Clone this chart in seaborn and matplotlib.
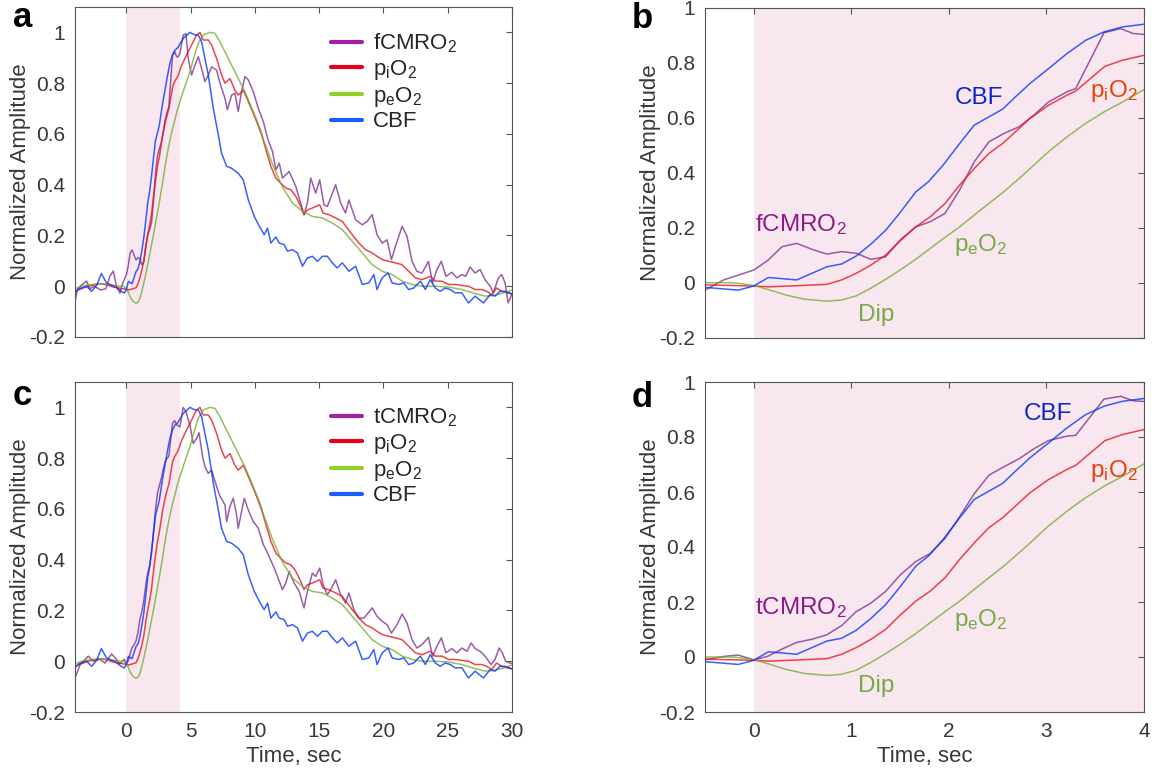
import numpy as np
import pandas as pd
import seaborn as sns
from matplotlib import pyplot as plt
from matplotlib.lines import Line2D
from matplotlib.ticker import FuncFormatter

# CBF, same trace in all panels
cbf_t = [-4.0, -3.7, -3.4, -3.1, -2.7, -2.3, -1.95, -1.55, -1.2, -0.9, -0.5,
         -0.16, 0.0, 0.15, 0.44, 0.75, 0.9, 1.05, 1.2, 1.35, 1.5, 1.66, 1.79, 1.94,
         2.11, 2.26, 2.41, 2.55, 2.68, 2.83, 3.02, 3.21, 3.4, 3.59, 3.78, 4.0,
         4.42, 4.94, 5.33, 5.59, 5.85, 6.11, 6.37, 6.76, 7.15, 7.4, 7.8, 8.18, 8.7,
         9.09, 9.48, 9.95, 10.34, 10.72, 10.98, 11.24, 11.63, 11.89, 12.27, 12.53,
         12.92, 13.31, 13.7, 14.08, 14.47, 14.86, 15.25, 15.63, 16.02, 16.4, 16.8,
         17.31, 17.83, 18.35, 18.86, 19.25, 19.5, 19.9, 20.36, 20.67, 21.19, 21.58,
         21.96, 22.35, 22.87, 23.26, 23.64, 24.03, 24.42, 24.8, 25.19, 25.58, 26.1,
         26.61, 27.13, 27.78, 28.3, 28.68, 29.07, 29.46, 30.0]
cbf = [-0.025, -0.01, -0.005, 0.0, -0.02, 0.005, 0.05, 0.013, 0.005, 0.0, -0.017,
       -0.027, -0.012, 0.019, 0.01, 0.058, 0.068, 0.097, 0.14, 0.19, 0.255, 0.33, 0.367, 0.427,
       0.506, 0.573, 0.603, 0.631, 0.675, 0.724, 0.778, 0.833, 0.881, 0.912, 0.93, 0.94,
       0.976, 1.0, 0.99, 0.99, 0.963, 0.897, 0.832, 0.701, 0.596, 0.524, 0.472, 0.465, 0.445,
       0.419, 0.341, 0.275, 0.236, 0.203, 0.229, 0.17, 0.194, 0.17, 0.164, 0.138,
       0.144, 0.131, 0.079, 0.111, 0.118, 0.098, 0.118, 0.118, 0.092, 0.072, 0.092,
       0.059, 0.079, 0.007, 0.013, 0.046, -0.013, 0.033, 0.052, 0.013, 0.007, 0.013,
       -0.013, -0.007, 0.02, -0.013, 0.026, -0.007, -0.02, -0.007, -0.013, -0.026, -0.026,
       -0.066, -0.039, -0.066, -0.033, -0.039, -0.02, -0.02, -0.03]

# piO2
pio2_t = [-4.0, -3.5, -3.0, -2.5, -2.0, -1.5, -1.0, -0.5,
          0.0, 0.15, 0.44, 0.75, 0.9, 1.05, 1.2, 1.35, 1.5, 1.66, 1.81, 1.96, 2.11,
          2.26, 2.41, 2.55, 2.68, 2.83, 3.02, 3.21, 3.3, 3.6, 3.78, 4.0,
          4.3, 4.68, 5.07, 5.46, 5.72, 5.98, 6.37, 6.63, 7.02, 7.4, 7.67, 8.06, 8.44,
          8.7, 9.1, 9.6, 10.13, 10.52, 10.9, 11.24, 11.63, 12.0, 12.4, 12.8, 13.18,
          13.57, 13.82, 14.08, 14.47, 14.73, 15.04, 15.3, 15.76, 16.28, 16.8, 17.18,
          17.57, 18.09, 18.6, 19.12, 19.5, 19.9, 20.4, 20.93, 21.45, 21.96, 22.48,
          23.0, 23.64, 24.03, 24.55, 25.06, 25.58, 26.1, 26.61, 27.13, 27.65, 28.04,
          28.42, 28.8, 29.2, 29.6, 30.0]
pio2 = [-0.02, -0.01, 0.0, 0.005, 0.01, 0.005, -0.004, -0.008,
        -0.012, -0.015, -0.011, -0.006, 0.01, 0.034, 0.064, 0.1, 0.152, 0.203, 0.24, 0.288, 0.355,
        0.415, 0.47, 0.506, 0.548, 0.597, 0.645, 0.682, 0.697, 0.787, 0.809, 0.827,
        0.87, 0.911, 0.95, 0.99, 1.0, 0.97, 0.97, 0.95, 0.897, 0.832, 0.8, 0.818, 0.772,
        0.753, 0.772, 0.714, 0.649, 0.596, 0.53, 0.472, 0.426, 0.406, 0.387, 0.38, 0.354,
        0.314, 0.282, 0.301, 0.308, 0.314, 0.321, 0.288, 0.282, 0.269, 0.255, 0.229,
        0.203, 0.17, 0.144, 0.131, 0.118, 0.105, 0.098, 0.092, 0.085, 0.059, 0.033,
        0.026, 0.039, 0.02, 0.02, 0.007, 0.007, 0.003, 0.0, -0.013, -0.013, -0.02,
        -0.033, -0.007, -0.02, -0.026, -0.03]

# peO2
peo2_t = [-4.0, -3.5, -3.0, -2.5, -2.0, -1.5, -1.0, -0.5,
          -0.2, 0.0, 0.14, 0.33, 0.52, 0.75, 0.9, 1.05, 1.2, 1.35, 1.5, 1.66, 1.81,
          1.96, 2.11, 2.26, 2.41, 2.56, 2.72, 2.87, 3.02, 3.21, 3.4, 3.59, 3.78, 4.0,
          4.5, 4.94, 5.3, 5.59, 5.98, 6.5, 6.89, 7.28, 7.93, 8.57, 9.22, 9.87, 10.39,
          10.72, 11.37, 12.14, 12.92, 13.7, 14.47, 15.25, 16.02, 16.8, 17.57, 18.35,
          19.12, 19.9, 20.67, 21.45, 22.22, 23.0, 24.03, 25.06, 26.1, 27.13, 27.9,
          28.42, 29.2, 30.0]
peo2 = [-0.01, 0.0, 0.005, 0.008, 0.01, 0.008, 0.003, 0.0,
        0.0, -0.01, -0.024, -0.045, -0.06, -0.067, -0.063, -0.048, -0.02, 0.012, 0.046, 0.085, 0.125,
        0.165, 0.203, 0.246, 0.288, 0.33, 0.379, 0.427, 0.476, 0.53, 0.579, 0.621, 0.657, 0.702,
        0.78, 0.845, 0.91, 0.957, 0.99, 1.0, 0.996, 0.963, 0.897, 0.832, 0.766, 0.688, 0.623,
        0.57, 0.48, 0.39, 0.328, 0.295, 0.275, 0.269, 0.249, 0.223, 0.177, 0.131,
        0.085, 0.059, 0.046, 0.02, 0.007, 0.0, 0.0, -0.003, -0.013, -0.029, -0.039,
        -0.037, -0.029, -0.015]

# fCMRO2 (panels a, b)
fcmro2_t = [-4.0, -3.8, -3.45, -3.1, -2.85, -2.5, -2.0, -1.6, -1.28, -1.02, -0.77,
            -0.5, -0.31, 0.0, 0.14, 0.29, 0.44, 0.6, 0.75, 0.9, 1.05, 1.2, 1.35, 1.5,
            1.66, 1.81, 1.96, 2.11, 2.26, 2.41, 2.56, 2.72, 2.87, 3.02, 3.21, 3.3, 3.59,
            3.76, 3.89, 4.0,
            4.16, 4.42, 4.63, 4.81, 5.07, 5.33, 5.59, 5.85, 6.11, 6.37, 6.63, 7.02, 7.28,
            7.67, 7.85, 8.19, 8.44, 8.7, 8.96, 9.22, 9.48, 9.87, 10.26, 10.65, 11.0,
            11.37, 11.63, 11.89, 12.14, 12.66, 13.18, 13.82, 14.08, 14.34, 14.73, 15.04,
            15.37, 15.63, 16.28, 16.67, 17.05, 17.31, 17.83, 18.35, 18.73, 19.12, 19.5,
            19.9, 20.28, 20.62, 20.93, 21.45, 21.83, 22.22, 22.6, 23.0, 23.5, 23.82,
            24.16, 24.5, 24.86, 25.32, 25.71, 26.1, 26.4, 26.74, 27.13, 27.52, 27.9,
            28.3, 28.55, 28.94, 29.2, 29.46, 29.7, 30.0]
fcmro2 = [-0.06, -0.01, 0.007, 0.02, -0.01, 0.0, -0.015, -0.01, 0.04, 0.06, 0.0,
          -0.027, 0.01, 0.046, 0.08, 0.131, 0.143, 0.121, 0.104, 0.113, 0.107, 0.085, 0.094, 0.155,
          0.203, 0.222, 0.252, 0.337, 0.44, 0.512, 0.542, 0.567, 0.609, 0.657, 0.694, 0.706, 0.909,
          0.924, 0.906, 0.903,
          0.917, 0.99, 0.995, 0.897, 0.832, 0.871, 0.904, 0.858, 0.806, 0.832, 0.864, 0.851, 0.8,
          0.74, 0.695, 0.753, 0.76, 0.688, 0.767, 0.826, 0.813, 0.767, 0.701, 0.649, 0.58,
          0.53, 0.459, 0.485, 0.426, 0.452, 0.393, 0.282, 0.328, 0.426, 0.367, 0.419,
          0.321, 0.314, 0.4, 0.328, 0.288, 0.34, 0.262, 0.242, 0.255, 0.282, 0.203,
          0.17, 0.183, 0.105, 0.157, 0.236, 0.197, 0.098, 0.059, 0.052, 0.098, 0.013,
          0.066, 0.098, 0.039, 0.055, 0.033, 0.046, 0.039, 0.076, 0.052, 0.066, 0.026,
          0.0, -0.026, 0.033, 0.046, 0.013, -0.066, -0.03]

# tCMRO2 (panels c, d)
tcmro2_t = [-4.0, -3.6, -2.97, -2.58, -2.06, -1.67, -1.15, -0.77,
            -0.5, -0.31, -0.16, 0.0, 0.14, 0.29, 0.44, 0.6, 0.75, 0.9, 1.05, 1.2, 1.35,
            1.5, 1.66, 1.81, 1.96, 2.11, 2.26, 2.41, 2.56, 2.72, 2.87, 3.02, 3.21, 3.3,
            3.59, 3.76, 3.89, 4.0,
            4.16, 4.42, 4.63, 4.94, 5.2, 5.46, 5.65, 5.93, 6.11, 6.37, 6.63, 7.02, 7.28,
            7.67, 7.8, 8.05, 8.31, 8.57, 8.7, 8.96, 9.17, 9.48, 9.87, 10.26, 10.65, 11.1,
            11.5, 12.14, 12.4, 12.66, 13.05, 13.44, 13.82, 14.08, 14.47, 14.73, 15.04,
            15.3, 15.63, 15.9, 16.28, 16.67, 17.05, 17.31, 17.7, 18.09, 18.48, 19.12,
            19.5, 19.9, 20.28, 20.62, 21.06, 21.45, 21.83, 22.22, 22.6, 23.0, 23.5,
            23.82, 24.16, 24.5, 24.86, 25.32, 25.71, 26.1, 26.5, 26.82, 27.13, 27.52,
            27.9, 28.37, 28.68, 29.0, 29.25, 29.5, 30.0]
tcmro2 = [-0.066, -0.013, 0.02, 0.0, 0.007, -0.007, 0.029, 0.007,
          -0.01, 0.002, 0.007, -0.01, 0.002, 0.029, 0.053, 0.065, 0.081, 0.114, 0.165, 0.196, 0.238,
          0.298, 0.347, 0.377, 0.431, 0.51, 0.594, 0.661, 0.691, 0.721, 0.757, 0.787, 0.803, 0.806,
          0.938, 0.948, 0.932, 0.929,
          0.923, 1.0, 0.983, 0.93, 0.858, 0.878, 0.9, 0.806, 0.767, 0.74, 0.753, 0.688, 0.65,
          0.616, 0.55, 0.609, 0.642, 0.577, 0.524, 0.59, 0.642, 0.596, 0.55, 0.524, 0.46, 0.413,
          0.367, 0.282, 0.308, 0.354, 0.308, 0.275, 0.21, 0.275, 0.347, 0.334, 0.367,
          0.301, 0.262, 0.282, 0.321, 0.262, 0.229, 0.269, 0.203, 0.17, 0.17, 0.21,
          0.177, 0.157, 0.144, 0.111, 0.144, 0.186, 0.151, 0.085, 0.052, 0.066, 0.094,
          0.02, 0.059, 0.092, 0.033, 0.05, 0.033, 0.052, 0.039, 0.072, 0.05, 0.039,
          0.02, -0.013, 0.007, 0.052, 0.033, 0.0, -0.01]

stim_on, stim_off = 0.0, 4.15

line_col = {'cmro2': '#7e2f8e', 'pio2': '#e8101e', 'peo2': '#77ac30', 'cbf': '#0033ff'}
leg_col = {'cmro2': '#a41fa8', 'pio2': '#e8001a', 'peo2': '#92d02a', 'cbf': '#1a5cff'}
txt_col = {'cmro2': '#8e1a8a', 'pio2': '#e8400c', 'peo2': '#78a848', 'cbf': '#1024cc'}

sns.set_theme(style='white')
plt.rcParams['font.family'] = ['Liberation Sans', 'DejaVu Sans']
plt.rcParams['axes.unicode_minus'] = False
plt.rcParams['mathtext.default'] = 'regular'

GRAY = '#383838'

def sub(s):
    return '$_{' + s + '}$'

def draw_panel(ax, cmro2_t, cmro2, xlim, ylim, xticks, xlabels):
    ax.axvspan(stim_on, stim_off, color='#f8e7ef', lw=0, zorder=0)
    series = [(cmro2_t, cmro2, 'cmro2'), (pio2_t, pio2, 'pio2'),
              (peo2_t, peo2, 'peo2'), (cbf_t, cbf, 'cbf')]
    for t, v, key in series:
        d = pd.DataFrame({'t': t, 'v': v})
        sns.lineplot(data=d, x='t', y='v', ax=ax, color=line_col[key], lw=1.1,
                     alpha=0.78, estimator=None, sort=False, zorder=2)
    ax.set_xlim(*xlim)
    ax.set_ylim(*ylim)
    ax.set_xticks(xticks)
    ax.set_yticks([-0.2, 0, 0.2, 0.4, 0.6, 0.8, 1.0])
    fmt = FuncFormatter(lambda x, p: '%g' % round(x, 3))
    ax.xaxis.set_major_formatter(fmt)
    ax.yaxis.set_major_formatter(fmt)
    ax.tick_params(direction='in', top=True, right=True, length=4, width=0.8,
                   color='#555555', labelsize=15, labelcolor=GRAY, pad=7)
    if not xlabels:
        ax.tick_params(labelbottom=False)
        ax.set_xlabel('')
    else:
        ax.set_xlabel('Time, sec', fontsize=16, color=GRAY, labelpad=4)
    ax.set_ylabel('Normalized Amplitude', fontsize=16, color=GRAY, labelpad=-1)
    for s in ax.spines.values():
        s.set_color('#555555')
        s.set_linewidth(0.8)
    ax.grid(False)

W, H = 1158, 780
fig = plt.figure(figsize=(W / 100, H / 100), dpi=100)
ax_a = fig.add_axes([75 / W, 1 - 337 / H, 437 / W, 330 / H])
ax_b = fig.add_axes([705 / W, 1 - 337.7 / H, 439 / W, 330 / H])
ax_c = fig.add_axes([75 / W, 1 - 712 / H, 437 / W, 330 / H])
ax_d = fig.add_axes([705 / W, 1 - 712 / H, 439 / W, 330 / H])

draw_panel(ax_a, fcmro2_t, fcmro2, (-4, 30), (-0.2, 1.1), [0, 5, 10, 15, 20, 25, 30], False)
draw_panel(ax_c, tcmro2_t, tcmro2, (-4, 30), (-0.2, 1.1), [0, 5, 10, 15, 20, 25, 30], True)
draw_panel(ax_b, fcmro2_t, fcmro2, (-0.5, 4), (-0.2, 1.0), [0, 1, 2, 3, 4], False)
draw_panel(ax_d, tcmro2_t, tcmro2, (-0.5, 4), (-0.2, 1.0), [0, 1, 2, 3, 4], True)

# legends in a and c
for ax, name in [(ax_a, 'fCMRO' + sub('2')), (ax_c, 'tCMRO' + sub('2'))]:
    handles = [Line2D([], [], color=leg_col[k], lw=3) for k in ['cmro2', 'pio2', 'peo2', 'cbf']]
    labels = [name, 'p' + sub('i') + 'O' + sub('2'), 'p' + sub('e') + 'O' + sub('2'), 'CBF']
    ax.legend(handles, labels, loc='upper left', bbox_to_anchor=(0.585, 0.925),
              frameon=False, fontsize=16, handlelength=1.4, handletextpad=0.5,
              labelspacing=0.12, borderpad=0, borderaxespad=0)

# text labels in b and d
ann_b = [('CBF', 2.06, 0.673, 'cbf'), ('fCMRO' + sub('2'), 0.01, 0.213, 'cmro2'),
         ('p' + sub('i') + 'O' + sub('2'), 3.45, 0.698, 'pio2'),
         ('p' + sub('e') + 'O' + sub('2'), 2.05, 0.137, 'peo2'), ('Dip', 1.07, -0.117, 'peo2')]
ann_d = [('CBF', 2.77, 0.882, 'cbf'), ('tCMRO' + sub('2'), 0.01, 0.181, 'cmro2'),
         ('p' + sub('i') + 'O' + sub('2'), 3.45, 0.676, 'pio2'),
         ('p' + sub('e') + 'O' + sub('2'), 2.05, 0.135, 'peo2'), ('Dip', 1.07, -0.106, 'peo2')]
for ax, anns in [(ax_b, ann_b), (ax_d, ann_d)]:
    for s, x, y, k in anns:
        ax.text(x, y, s, color=txt_col[k], fontsize=17.5, ha='left', va='center', zorder=3)

# panel letters
for s, x, y in [('a', 13, 27), ('b', 632, 28), ('c', 13, 405), ('d', 632, 407)]:
    fig.text(x / W, 1 - y / H, s, fontsize=25, fontweight='bold', color='black',
             ha='left', va='baseline')

fig.savefig('out.png', dpi=100)
